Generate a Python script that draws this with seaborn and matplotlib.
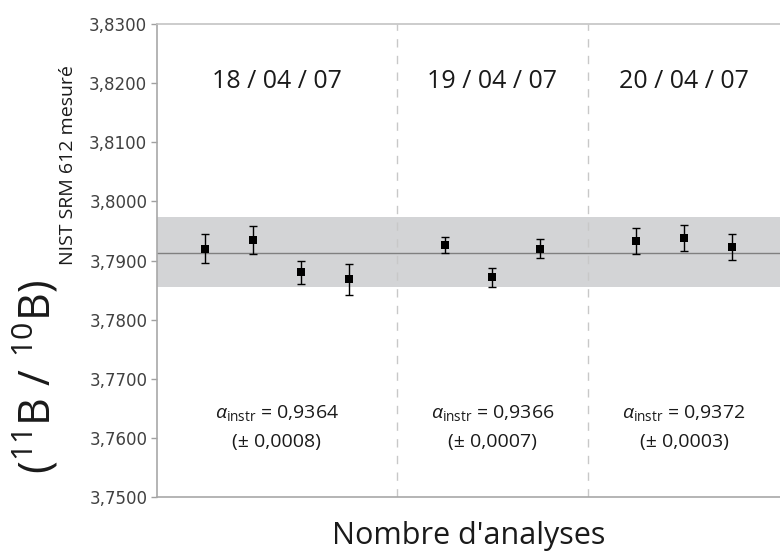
import numpy as np
import pandas as pd
import matplotlib
matplotlib.use("Agg")
import matplotlib.pyplot as plt
import seaborn as sns

# Valeurs
analyse = [1, 2, 3, 4, 6, 7, 8, 10, 11, 12]
rapport = [3.7920, 3.7935, 3.7880, 3.7868, 3.7926, 3.7872, 3.7920, 3.7933, 3.7938, 3.7923]
erreur = [0.0024, 0.0024, 0.0019, 0.0026, 0.0014, 0.0016, 0.0016, 0.0022, 0.0022, 0.0022]

moyenne = 3.7913
bande_bas = 3.7856
bande_haut = 3.7973

separations = [5, 9]
dates = ["18 / 04 / 07", "19 / 04 / 07", "20 / 04 / 07"]
centres_dates = [2.5, 7.0, 11.0]
alphas = ["0,9364", "0,9366", "0,9372"]
alphas_err = ["0,0008", "0,0007", "0,0003"]

yticks = [3.75, 3.76, 3.77, 3.78, 3.79, 3.80, 3.81, 3.82, 3.83]

df = pd.DataFrame({"analyse": analyse, "rapport": rapport, "erreur": erreur})

sns.set_style("white")
plt.rcParams["font.family"] = ["Open Sans", "DejaVu Sans"]
plt.rcParams["mathtext.fontset"] = "custom"
plt.rcParams["mathtext.rm"] = "Open Sans"
plt.rcParams["mathtext.it"] = "Open Sans:italic"

fig = plt.figure(figsize=(7.8, 5.54), dpi=100)
ax = fig.add_axes([157 / 780, 57 / 554, 623 / 780, 473 / 554])

# bande grise et moyenne
ax.axhspan(bande_bas, bande_haut, color="#d3d4d6", lw=0, zorder=0)
ax.axhline(moyenne, color="#808080", lw=1.0, zorder=1)

for s in separations:
    ax.axvline(s, color="#c8c8c8", lw=1.0, ls=(0, (6, 6)), zorder=1)

ax.errorbar(df["analyse"], df["rapport"], yerr=df["erreur"], fmt="none",
            ecolor="black", elinewidth=1.0, capsize=2.6, capthick=1.0, zorder=2)
sns.scatterplot(data=df, x="analyse", y="rapport", marker="s", s=32,
                color="black", edgecolor="black", linewidth=0, ax=ax, zorder=3)

for xc, d in zip(centres_dates, dates):
    ax.text(xc, 3.8202, d, ha="center", va="center", fontsize=18, color="#1a1a1a")

for xc, a, e in zip(centres_dates, alphas, alphas_err):
    ax.text(xc, 3.7642, r"$\alpha_{\mathrm{instr}}$ = " + a, ha="center", va="center",
            fontsize=14, color="#1a1a1a")
    ax.text(xc, 3.7593, "(± " + e + ")", ha="center", va="center",
            fontsize=14, color="#1a1a1a")

ax.set_xlim(0, 13)
ax.set_ylim(3.75, 3.83)
ax.set_yticks(yticks)
ax.set_yticklabels([f"{v:.4f}".replace(".", ",") for v in yticks],
                   fontfamily="DejaVu Sans", fontsize=12, color="#404040")
ax.set_xticks([])
ax.tick_params(axis="y", left=True, length=4, width=1, color="#a0a0a0", pad=3)

for side in ["left", "bottom", "top"]:
    ax.spines[side].set_color("#a8a8a8")
    ax.spines[side].set_linewidth(1.2)
ax.spines["top"].set_color("#c4c4c4")
ax.spines["right"].set_visible(False)

ax.set_xlabel("Nombre d'analyses", fontsize=22, color="#1a1a1a", labelpad=17)
ax.set_ylabel("")

# titre de l'axe y : rapport + indice plus petit
fig.text(36 / 780, 1 - 377 / 554, r"$(^{11}\mathrm{B}\ /\ ^{10}\mathrm{B})$",
         rotation=90, ha="center", va="center", fontsize=31, color="#1a1a1a")
fig.text(68 / 780, 1 - 165 / 554, "NIST SRM 612 mesuré",
         rotation=90, ha="center", va="center", fontsize=14, color="#1a1a1a")

fig.savefig("out.png", dpi=100)
